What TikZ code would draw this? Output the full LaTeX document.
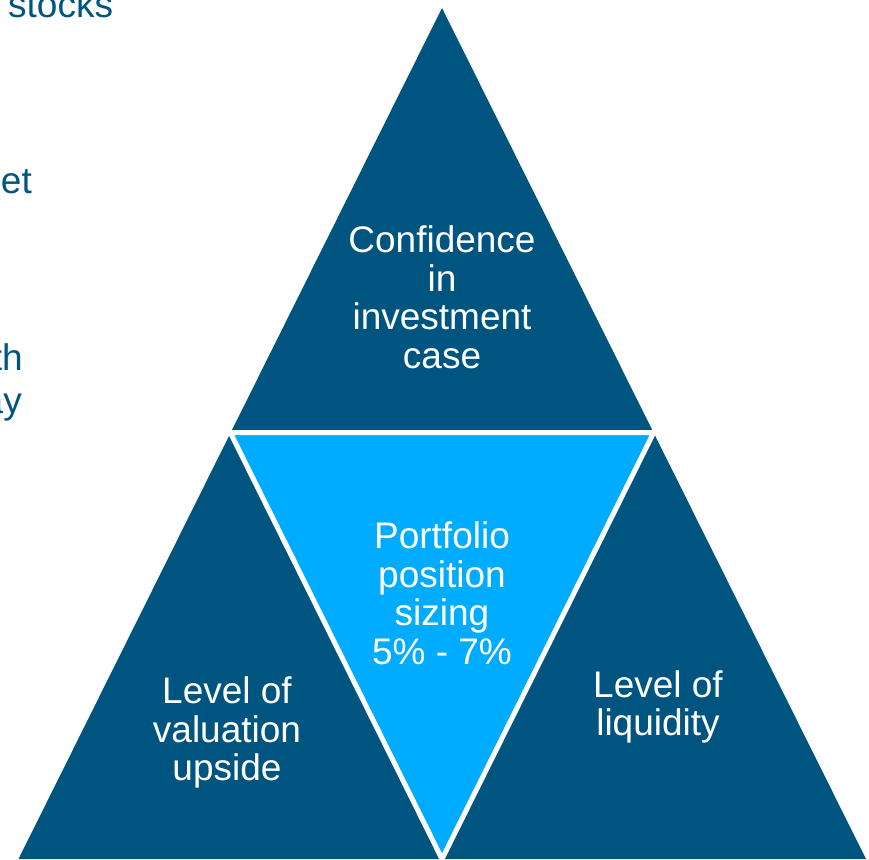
\documentclass[tikz,border=0pt]{standalone}
\usepackage{fontspec}
\setmainfont{Liberation Sans}
\definecolor{darkblue}{RGB}{0,85,128}
\definecolor{lightblue}{RGB}{0,172,255}
\tikzset{
  lbl/.style={text=white, align=center, inner sep=0pt, font=\fontsize{37}{38.5}\selectfont},
  side/.style={text=darkblue, inner sep=0pt, font=\fontsize{37}{38.5}\selectfont},
}
\begin{document}
\begin{tikzpicture}[x=1pt,y=-1pt]
\useasboundingbox (0,0) rectangle (869,859);
\clip (0,0) rectangle (869,859);
% corner coordinates
\coordinate (apex) at (442,8);
\coordinate (bl) at (18.5,859);
\coordinate (br) at (866,859);
\coordinate (ml) at (230.3,432.5);
\coordinate (mr) at (653.7,432.5);
\coordinate (mb) at (442,859);
% big dark triangle
\fill[darkblue] (apex) -- (bl) -- (br) -- cycle;
% inner inverted triangle
\filldraw[fill=lightblue, draw=white, line width=5pt, miter limit=20] (ml) -- (mr) -- (mb) -- cycle;
% labels
\node[lbl] (conf) at (442,297.5) {Confidence\\in\\investment\\case};
\node[lbl] (port) at (442,593.5) {Portfolio\\position\\sizing\\5\% - 7\%};
\node[lbl] (val) at (227,732.5) {Level of\\valuation\\upside};
\node[lbl] (liq) at (658,707) {Level of\\liquidity};
% side texts, cut off at the picture's edge as in the reference
\node[side, anchor=base west] (t1) at (8,18) {stocks};
\node[side, anchor=base east] (t2) at (32,193) {et};
\node[side, anchor=base east] (t3) at (23,370) {th};
\node[side, anchor=base east] (t4) at (22,413) {ay};
\end{tikzpicture}
\end{document}
